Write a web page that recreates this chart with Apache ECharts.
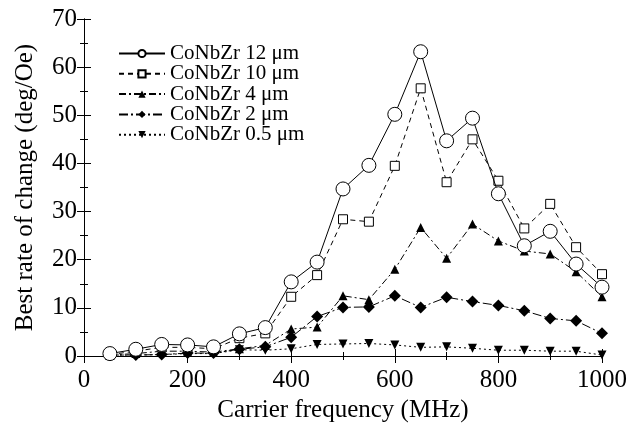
<!DOCTYPE html>
<html>
<head>
<meta charset="utf-8">
<script src="https://cdn.jsdelivr.net/npm/echarts@6/dist/echarts.min.js"></script>
<style>
  html, body { margin: 0; padding: 0; background: #fff; }
  #chart { width: 639px; height: 423px; }
</style>
</head>
<body>
<div id="chart"></div>
<script>
var freq = [50, 100, 150, 200, 250, 300, 350, 400, 450, 500, 550, 600, 650, 700, 750, 800, 850, 900, 950, 1000];
var names = ['CoNbZr 12 \u03bcm', 'CoNbZr 10 \u03bcm', 'CoNbZr 4 \u03bcm', 'CoNbZr 2 \u03bcm', 'CoNbZr 0.5 \u03bcm'];
var d12 = [0.5, 1.4, 2.4, 2.3, 1.9, 4.6, 5.9, 15.4, 19.5, 34.7, 39.6, 50.2, 63.2, 44.7, 49.4, 33.7, 22.9, 25.9, 19.1, 14.3];
var d10 = [0.3, 1.0, 1.8, 1.8, 1.5, 3.7, 4.7, 12.3, 16.8, 28.4, 27.9, 39.5, 55.6, 36.1, 45.0, 36.4, 26.5, 31.6, 22.6, 17.0];
var d4 = [0.2, 0.5, 1.0, 1.0, 0.8, 1.5, 2.2, 5.6, 6.0, 12.5, 11.7, 18.0, 26.7, 20.3, 27.4, 23.9, 21.8, 21.2, 17.5, 12.3];
var d2 = [0.2, 0.2, 0.3, 0.6, 0.6, 1.4, 1.9, 3.9, 8.2, 10.1, 10.2, 12.5, 10.1, 12.2, 11.3, 10.5, 9.4, 7.8, 7.3, 4.7];
var d05 = [0.1, 0.2, 0.3, 0.5, 0.5, 1.3, 1.2, 1.5, 2.4, 2.5, 2.6, 2.3, 1.8, 1.9, 1.6, 1.2, 1.2, 1.0, 1.0, 0.2];

function pairs(arr) {
  return arr.map(function (v, i) { return [freq[i], v]; });
}

var serif = 'Liberation Serif';
var tickStyle = { show: true, inside: true, length: 7, lineStyle: { color: '#000', width: 1 } };
var minorStyle = { show: true, splitNumber: 2, length: 4, lineStyle: { color: '#000', width: 1 } };

var chart = echarts.init(document.getElementById('chart'));

var option = {
  backgroundColor: '#fff',
  animation: false,
  grid: { left: 84, right: 37, top: 19, bottom: 67, outerBoundsMode: 'none', containLabel: false },
  legend: {
    orient: 'vertical',
    left: 113,
    top: 38,
    itemWidth: 46,
    itemHeight: 9,
    itemGap: -0.7,
    textStyle: { fontFamily: serif, fontSize: 21, color: '#000' },
    data: names
  },
  xAxis: [
    {
      type: 'value', min: 0, max: 1000, interval: 200,
      name: 'Carrier frequency (MHz)', nameLocation: 'middle', nameGap: 40,
      nameTextStyle: { fontFamily: serif, fontSize: 25, color: '#000' },
      axisLine: { lineStyle: { color: '#000', width: 1 } },
      axisTick: tickStyle, minorTick: minorStyle,
      axisLabel: {
        fontFamily: serif, fontSize: 25, color: '#000', margin: 12,
        formatter: function (v) { return String(v); }
      },
      splitLine: { show: false }
    },
    {
      type: 'value', min: 0, max: 1000, interval: 200, position: 'top',
      axisLine: { lineStyle: { color: '#000', width: 1 } },
      axisTick: tickStyle, minorTick: minorStyle,
      axisLabel: { show: false }, splitLine: { show: false }
    }
  ],
  yAxis: [
    {
      type: 'value', min: 0, max: 70, interval: 10,
      name: 'Best rate of change (deg/Oe)', nameLocation: 'middle', nameGap: 46,
      nameTextStyle: { fontFamily: serif, fontSize: 25, color: '#000' },
      axisLine: { show: true, lineStyle: { color: '#000', width: 1 } },
      axisTick: tickStyle, minorTick: minorStyle,
      axisLabel: { fontFamily: serif, fontSize: 25, color: '#000', margin: 7 },
      splitLine: { show: false }
    },
    {
      type: 'value', min: 0, max: 70, interval: 10, position: 'right',
      axisLine: { show: true, lineStyle: { color: '#000', width: 1 } },
      axisTick: tickStyle, minorTick: minorStyle,
      axisLabel: { show: false }, splitLine: { show: false }
    }
  ],
  series: [
    {
      name: names[0], type: 'line', data: pairs(d12),
      symbol: 'circle', symbolSize: 14,
      lineStyle: { color: '#000', width: 1 },
      itemStyle: { color: '#fff', borderColor: '#000', borderWidth: 1 },
      z: 5
    },
    {
      name: names[1], type: 'line', data: pairs(d10),
      symbol: 'rect', symbolSize: 9,
      lineStyle: { color: '#000', width: 1, type: [5, 4] },
      itemStyle: { color: '#fff', borderColor: '#000', borderWidth: 1 },
      z: 4
    },
    {
      name: names[2], type: 'line', data: pairs(d4),
      symbol: 'triangle', symbolSize: 9,
      lineStyle: { color: '#000', width: 1, type: [7, 3, 2, 3] },
      itemStyle: { color: '#000' },
      z: 3
    },
    {
      name: names[3], type: 'line', data: pairs(d2),
      symbol: 'diamond', symbolSize: 12,
      lineStyle: { color: '#000', width: 1, type: [9, 3, 2, 3] },
      itemStyle: { color: '#000' },
      z: 3
    },
    {
      name: names[4], type: 'line', data: pairs(d05),
      symbol: 'triangle', symbolRotate: 180, symbolSize: 9,
      lineStyle: { color: '#000', width: 1, type: [2, 3] },
      itemStyle: { color: '#000' },
      z: 3
    }
  ]
};

chart.setOption(option);
</script>
</body>
</html>
